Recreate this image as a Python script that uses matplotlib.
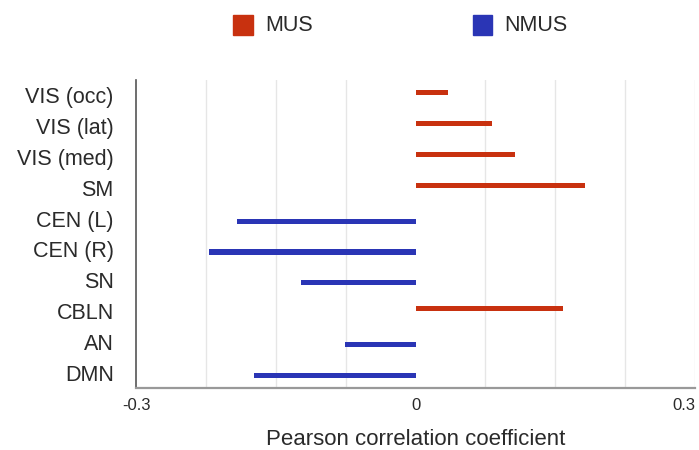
import numpy as np
import matplotlib
matplotlib.use("Agg")
import matplotlib.pyplot as plt
from matplotlib.patches import Rectangle

plt.rcParams['font.family'] = ['Liberation Sans', 'DejaVu Sans']

categories = ["VIS (occ)", "VIS (lat)", "VIS (med)", "SM", "CEN (L)",
              "CEN (R)", "SN", "CBLN", "AN", "DMN"]
mus = [0.035, 0.082, 0.107, 0.182, 0, 0, 0, 0.158, 0, 0]
nmus = [0, 0, 0, 0, -0.192, -0.222, -0.123, 0, -0.076, -0.173]
series_names = ["MUS", "NMUS"]
xticks = [-0.3, 0, 0.3]
xtick_labels = ["-0.3", "0", "0.3"]

red = '#c8310f'
blue = '#2a35b5'
txt = '#2a2a2a'

fig = plt.figure(figsize=(6.99, 4.5), dpi=100)
ax = fig.add_axes([0.1946, 0.1378, 0.7997, 0.6844])

y = np.arange(len(categories))
h = 0.17
ax.barh(y - h / 2, mus, height=h, color=red, zorder=3)
ax.barh(y + h / 2, nmus, height=h, color=blue, zorder=3)

ax.set_xlim(-0.3, 0.3)
ax.set_ylim(len(categories) - 0.5, -0.5)

for g in [-0.225, -0.15, -0.075, 0.075, 0.15, 0.225, 0.3]:
    ax.axvline(g, color='#e6e6e6', lw=1, zorder=1)

ax.set_yticks(y)
ax.set_yticklabels(categories, fontsize=15.5, color=txt)
ax.set_xticks(xticks)
ax.set_xticklabels(xtick_labels, fontsize=12, color=txt)
ax.get_xticklabels()[-1].set_ha('right')
ax.tick_params(length=0, pad=7)
ax.tick_params(axis='y', pad=16)
ax.set_xlabel("Pearson correlation coefficient", fontsize=16, color=txt, labelpad=12)

for s in ['top', 'right']:
    ax.spines[s].set_visible(False)
ax.spines['left'].set_color('#555555')
ax.spines['left'].set_linewidth(1.2)
ax.spines['bottom'].set_color('#999999')
ax.spines['bottom'].set_linewidth(1.6)

# legend at top
for xpos, col, name in [(0.334, red, series_names[0]), (0.676, blue, series_names[1])]:
    fig.patches.append(Rectangle((xpos, 0.922), 0.028, 0.045, transform=fig.transFigure,
                                 color=col, figure=fig))
    fig.text(xpos + 0.045, 0.944, name, fontsize=15.5, va='center', color=txt)

fig.savefig("out.png", dpi=100)
